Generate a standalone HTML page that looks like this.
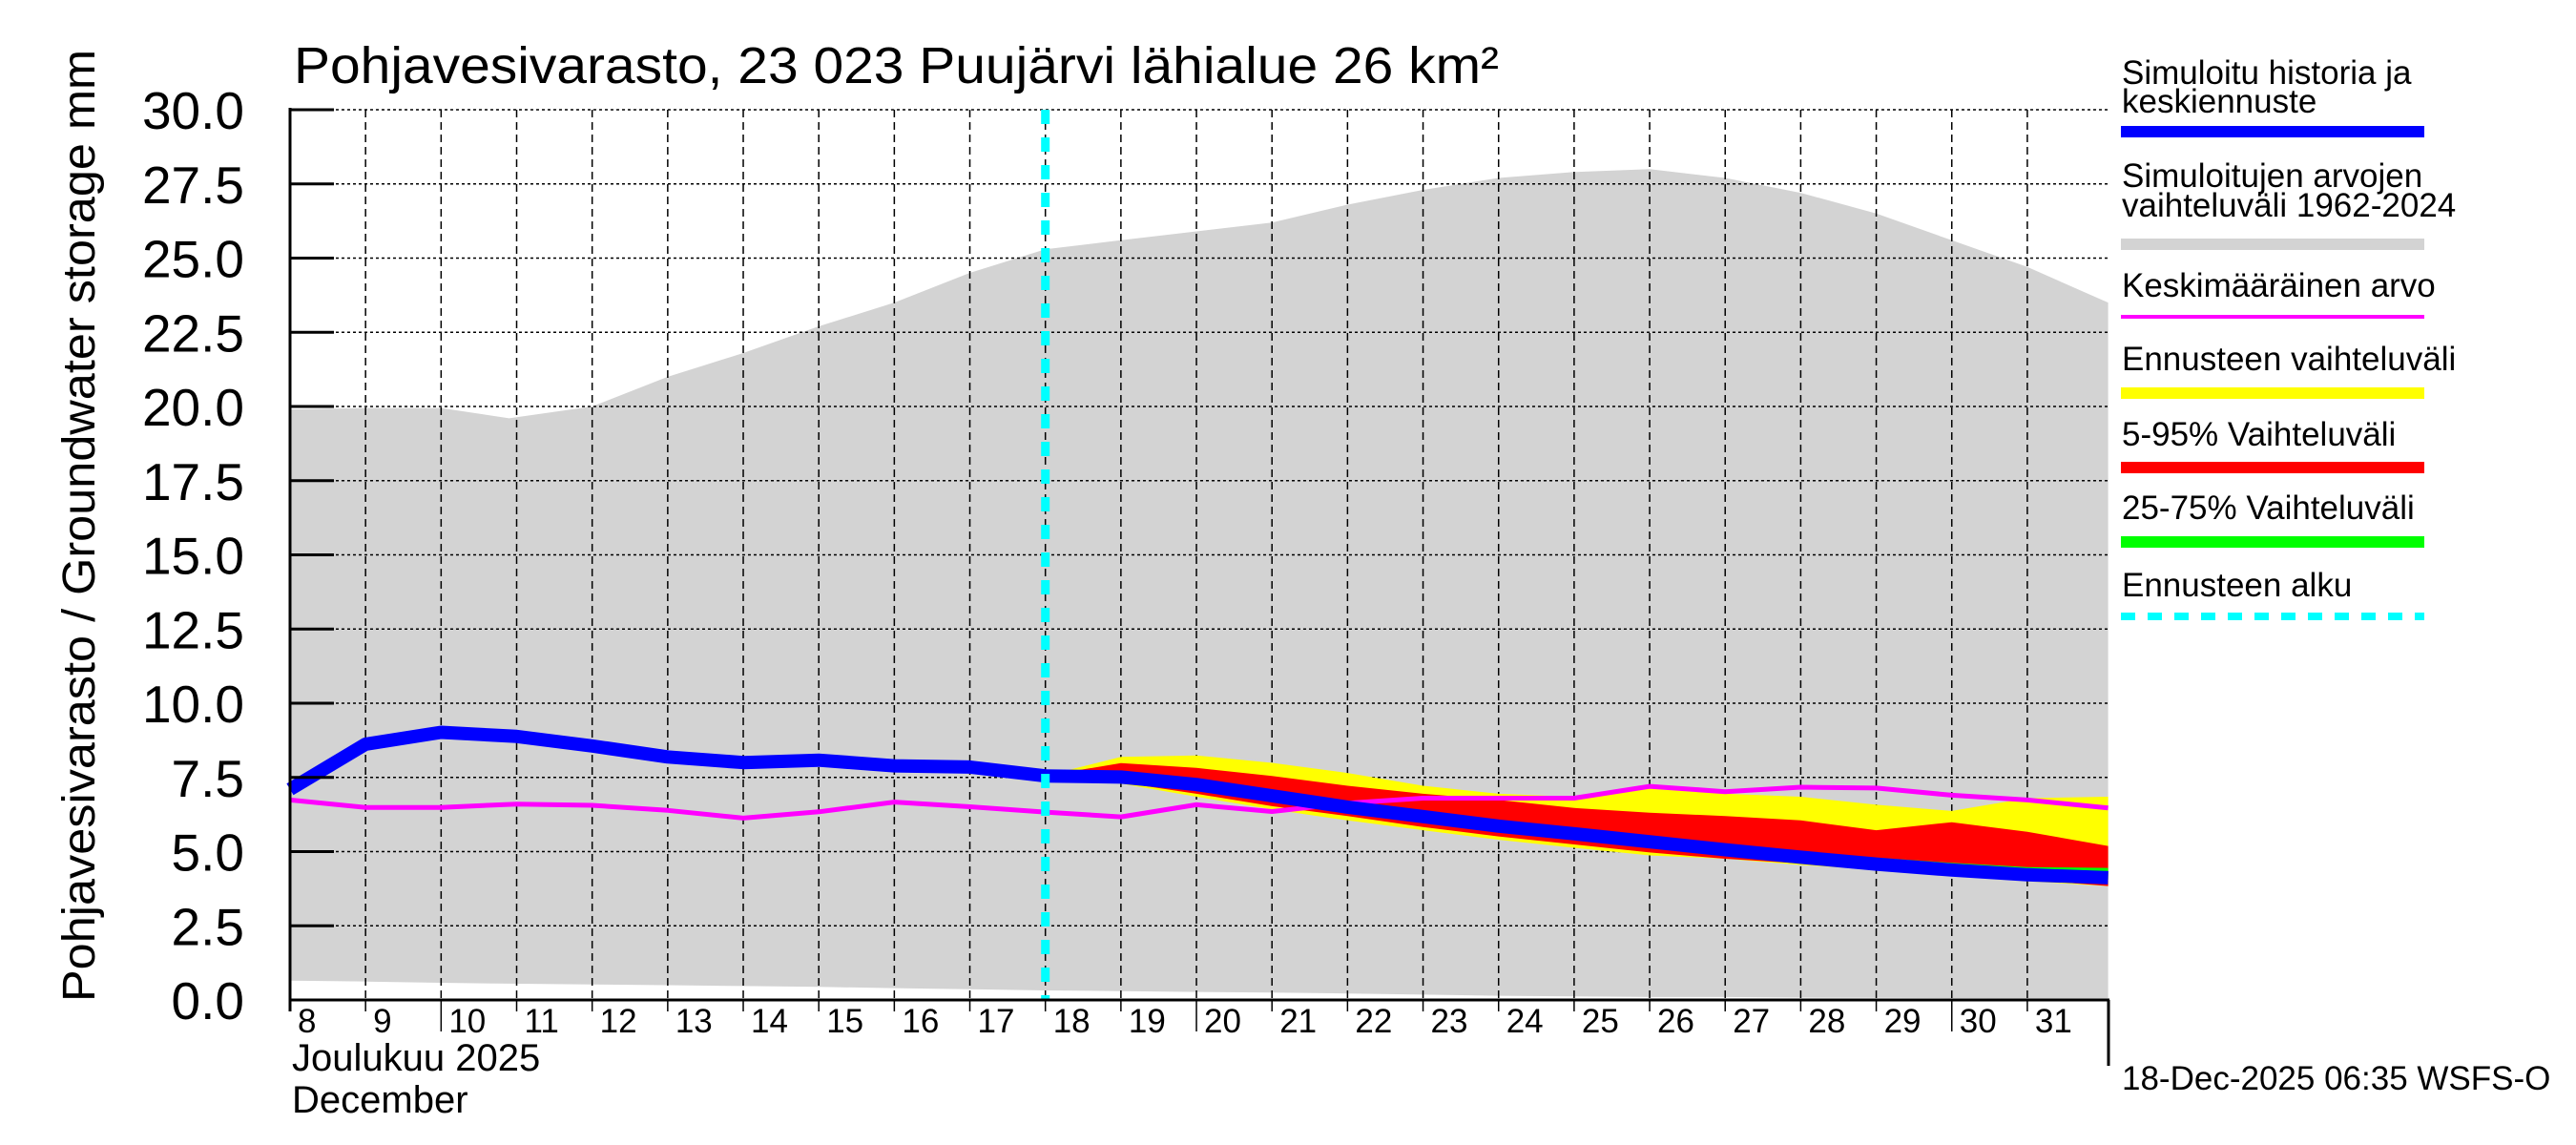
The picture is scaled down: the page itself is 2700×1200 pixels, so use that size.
<!DOCTYPE html>
<html><head><meta charset="utf-8"><style>
html,body{margin:0;padding:0;background:#fff;}
svg{display:block;font-family:"Liberation Sans",sans-serif;}
</style></head><body>
<svg id="chart" width="2700" height="1200" viewBox="0 0 2700 1200" xmlns="http://www.w3.org/2000/svg">
<rect width="2700" height="1200" fill="#fff"/>
<g id="plot"></g>
<text x="308" y="87" font-size="54" textLength="1263" lengthAdjust="spacingAndGlyphs">Pohjavesivarasto, 23 023 Puujärvi lähialue 26 km²</text>
<text transform="translate(99,1050) rotate(-90)" font-size="48" textLength="998" lengthAdjust="spacingAndGlyphs">Pohjavesivarasto / Groundwater storage   mm</text>
<text x="306" y="1122" font-size="40">Joulukuu  2025</text>
<text x="306" y="1166" font-size="40">December</text>
<text x="2224" y="1142" font-size="35">18-Dec-2025 06:35 WSFS-O</text>
<g font-size="35">
<text x="2224" y="88">Simuloitu historia ja</text>
<text x="2224" y="118">keskiennuste</text>
<rect x="2223" y="132" width="318" height="12" fill="#0000ff"/>
<text x="2224" y="196">Simuloitujen arvojen</text>
<text x="2224" y="227">vaihteluväli 1962-2024</text>
<rect x="2223" y="250" width="318" height="12" fill="#d3d3d3"/>
<text x="2224" y="311">Keskimääräinen arvo</text>
<rect x="2223" y="330" width="318" height="4" fill="#ff00ff"/>
<text x="2224" y="388">Ennusteen vaihteluväli</text>
<rect x="2223" y="406" width="318" height="12" fill="#ffff00"/>
<text x="2224" y="467">5-95% Vaihteluväli</text>
<rect x="2223" y="484" width="318" height="12" fill="#ff0000"/>
<text x="2224" y="544">25-75% Vaihteluväli</text>
<rect x="2223" y="562" width="318" height="12" fill="#00ff00"/>
<text x="2224" y="625">Ennusteen alku</text>
<line x1="2223" y1="646" x2="2541" y2="646" stroke="#00ffff" stroke-width="8" stroke-dasharray="15 13"/>
</g>
</svg>
<script>
// data
const histDays = [8,9,10,11,12,13,14,15,16,17,18];
const fcDays = [18,19,20,21,22,23,24,25,26,27,28,29,30,31,32.07];
const rangeDays = [8,9,10,10.9,12,13,14,15,16,17,18,19,20,21,22,23,24,25,26,27,28,29,30,31,32.07];
const rangeMax = [19.9,19.95,19.95,19.6,20.0,21.0,21.8,22.7,23.5,24.5,25.3,25.6,25.9,26.2,26.8,27.3,27.7,27.9,28.0,27.7,27.2,26.5,25.6,24.7,23.5];
const rangeMin = [0.65,0.62,0.58,0.55,0.52,0.5,0.47,0.44,0.4,0.36,0.32,0.3,0.27,0.25,0.22,0.18,0.14,0.12,0.1,0.1,0.08,0.07,0.06,0.05,0.05];
const histValues = [7.1,8.62,9.02,8.88,8.56,8.19,8.0,8.08,7.89,7.85,7.55];
const fcMedian = [7.55,7.51,7.26,6.88,6.5,6.18,5.86,5.6,5.33,5.06,4.81,4.58,4.38,4.22,4.12];
const fcMax = [7.56,8.19,8.24,7.99,7.65,7.22,6.95,6.85,7.12,6.95,6.85,6.58,6.37,6.8,6.85];
const fcMin = [7.5,7.29,6.85,6.42,6.05,5.72,5.4,5.13,4.87,4.76,4.55,4.39,4.17,4.0,3.84];
const p95 = [7.56,7.98,7.82,7.55,7.22,6.95,6.74,6.47,6.31,6.2,6.05,5.72,5.99,5.67,5.19];
const p05 = [7.5,7.33,6.95,6.53,6.2,5.83,5.51,5.24,4.97,4.76,4.6,4.44,4.22,4.06,3.84];
const p75 = [7.56,7.52,7.3,6.95,6.6,6.3,6.0,5.75,5.5,5.25,5.0,4.8,4.62,4.48,4.45];
const p25 = [7.54,7.45,7.15,6.78,6.4,6.08,5.76,5.5,5.23,4.96,4.72,4.5,4.3,4.14,4.05];
const meanDays = [8,9,10,11,12,13,14,15,16,17,18,19,20,21,22,23,24,25,26,27,28,29,30,31,32.07];
const meanValues = [6.74,6.49,6.49,6.6,6.56,6.39,6.13,6.34,6.67,6.51,6.33,6.17,6.58,6.35,6.63,6.8,6.8,6.8,7.2,7.02,7.17,7.14,6.9,6.74,6.47];
const yTicks = [0,2.5,5,7.5,10,12.5,15,17.5,20,22.5,25,27.5,30];
const yTickLabels = ["0.0","2.5","5.0","7.5","10.0","12.5","15.0","17.5","20.0","22.5","25.0","27.5","30.0"];
const xTicks = [8,9,10,11,12,13,14,15,16,17,18,19,20,21,22,23,24,25,26,27,28,29,30,31];
const forecastStart = 18;

const X0=304, DPX=79.17, Y0=1048, VPX=31.1, XEND=2210;
const x = d => X0 + (d-8)*DPX;
const y = v => Y0 - v*VPX;
const NS="http://www.w3.org/2000/svg";
const plot=document.getElementById('plot');
function mk(tag, attrs){const e=document.createElementNS(NS,tag);for(const k in attrs)e.setAttribute(k,attrs[k]);plot.appendChild(e);return e;}
function band(days, hi, lo, fill){
  let p=days.map((d,i)=>x(d).toFixed(1)+','+y(hi[i]).toFixed(1));
  for(let i=days.length-1;i>=0;i--)p.push(x(days[i]).toFixed(1)+','+y(lo[i]).toFixed(1));
  return mk('polygon',{points:p.join(' '),fill:fill});
}
function line(days, vals, color, w){
  return mk('polyline',{points:days.map((d,i)=>x(d).toFixed(1)+','+y(vals[i]).toFixed(1)).join(' '),fill:'none',stroke:color,'stroke-width':w,'stroke-linejoin':'round'});
}
let e;
e=band(rangeDays,rangeMax,rangeMin,'#d3d3d3');


yTicks.forEach((v,i)=>{ if(v===0) return;
  const g=mk('line',{x1:X0,y1:y(v),x2:XEND,y2:y(v),stroke:'#000','stroke-width':1.5,'stroke-dasharray':'3 3'});
  
  
});
xTicks.forEach(d=>{ if(d===8) return;
  const g=mk('line',{x1:x(d),y1:y(30),x2:x(d),y2:Y0,stroke:'#000','stroke-width':1.5,'stroke-dasharray':'8 5'});
  
  
});
e=band(fcDays,fcMax,fcMin,'#ffff00');


e=band(fcDays,p95,p05,'#ff0000');


e=band(fcDays,p75,p25,'#00ff00');


e=line(meanDays,meanValues,'#ff00ff',5);


e=line(histDays,histValues,'#0000ff',14);


e=line(fcDays,fcMedian,'#0000ff',14);


e=mk('line',{x1:x(forecastStart),y1:y(30),x2:x(forecastStart),y2:Y0,stroke:'#00ffff','stroke-width':9,'stroke-dasharray':'15 14'});


e=mk('line',{x1:X0,y1:y(30)-2,x2:X0,y2:Y0+12,stroke:'#000','stroke-width':3});


e=mk('line',{x1:X0,y1:Y0,x2:XEND+1,y2:Y0,stroke:'#000','stroke-width':3});


e=mk('line',{x1:XEND,y1:Y0,x2:XEND,y2:1117,stroke:'#000','stroke-width':3});


yTicks.forEach((v,i)=>{
  const t=mk('line',{x1:X0,y1:y(v),x2:X0+46,y2:y(v),stroke:'#000','stroke-width':3});
  
  
  const l=mk('text',{x:256,y:y(v)+20,'font-size':55,'text-anchor':'end'});
  l.textContent=yTickLabels[i];
  
  
});
xTicks.forEach(d=>{
  const t=mk('line',{x1:x(d),y1:Y0,x2:x(d),y2:(d%10===0?1081:1060),stroke:'#000','stroke-width':1.5});
  
  
  const l=mk('text',{x:x(d)+8,y:1082,'font-size':35});
  l.textContent=String(d);
  
  
});
</script>
</body></html>
